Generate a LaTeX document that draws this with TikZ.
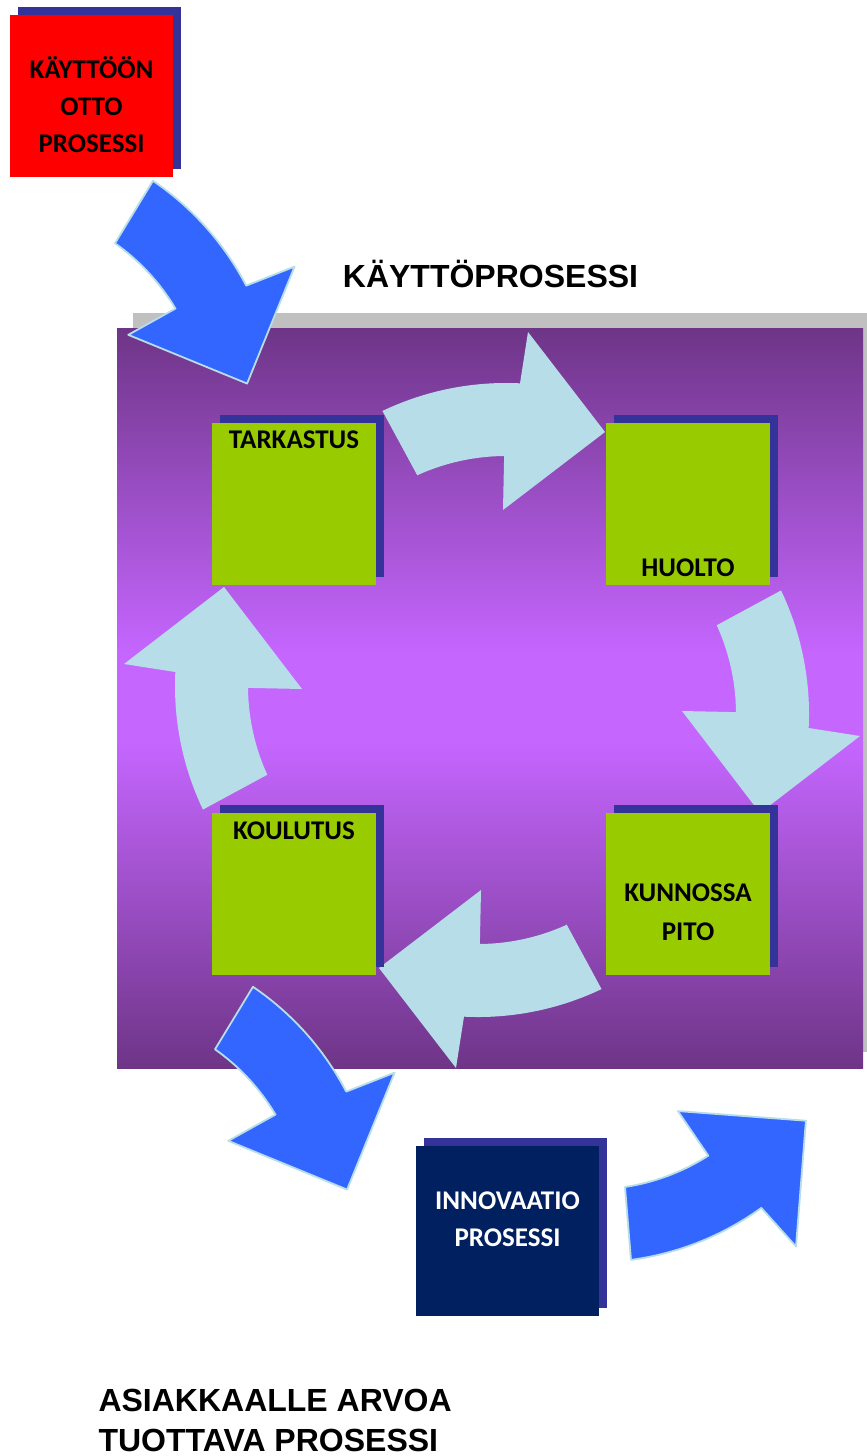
\documentclass[tikz,border=0pt]{standalone}
\usepackage{fontspec}
\newfontfamily\boxfont{Carlito}
\newfontfamily\headfont{Liberation Sans}

\definecolor{shadowblue}{HTML}{333399}
\definecolor{boxgreen}{HTML}{99CC00}
\definecolor{boxred}{HTML}{FF0000}
\definecolor{boxnavy}{HTML}{002060}
\definecolor{ringcyan}{HTML}{B7DEE8}
\definecolor{flowblue}{HTML}{3366FF}
\definecolor{bgtop}{HTML}{6E3587}
\definecolor{bgmid}{HTML}{C566FF}
\definecolor{bggray}{HTML}{C0C0C0}

% purple panel: dark at top and bottom, light in the middle
\pgfdeclareverticalshading{panelshade}{100bp}{%
  color(0bp)=(bgtop); color(25bp)=(bgtop);
  color(47bp)=(bgmid); color(53bp)=(bgmid);
  color(75bp)=(bgtop); color(100bp)=(bgtop)}

% curved block arrow: a ring sector with an arrow head, local frame
\newcommand{\ringarrow}[1]{%
  \path[#1] (-109.55,289.05)
    arc[start angle=115.5, end angle=87.2, radius=287]
    -- (36,368) -- (113,268) -- (11,190) -- (12.13,243.99)
    arc[start angle=90.5, end angle=114.5, radius=214] -- cycle;}

\tikzset{
  panel/.style={rectangle, inner sep=0pt, outer sep=0pt, anchor=north west},
  greenbox/.style={panel, fill=boxgreen, minimum width=164pt, minimum height=162pt},
  boxshadow/.style={fill=shadowblue},
  boxlabel/.style={anchor=base, inner sep=0pt,
    font=\boxfont\bfseries\fontsize{27}{32}\selectfont},
  headlabel/.style={inner sep=0pt,
    font=\headfont\bfseries\fontsize{32}{38}\selectfont},
  ringstyle/.style={fill=ringcyan},
  flowstyle/.style={fill=flowblue, draw=ringcyan, line width=1.8pt, line join=round}
}

\begin{document}
\begin{tikzpicture}[x=1pt,y=1pt]
\useasboundingbox (0,0) rectangle (867,-1456);
\fill[white] (0,0) rectangle (867,-1456);

% process frame with its shadow
\fill[bggray] (133,-313) rectangle (867,-1052);
\shade[shading=panelshade] (117,-328) rectangle (863,-1068);

% the four-step cycle arrows
\foreach \k in {0,1,2,3} {
  \begin{scope}[shift={(492,-700)}, rotate=-90*\k]
    \ringarrow{ringstyle}
  \end{scope}
}

% step boxes
\fill[boxshadow] (220,-415) rectangle (384,-577);
\node[greenbox] (tarkastus) at (212,-423) {};
\fill[boxshadow] (614,-415) rectangle (778,-577);
\node[greenbox] (huolto) at (606,-423) {};
\fill[boxshadow] (220,-805) rectangle (384,-967);
\node[greenbox] (koulutus) at (212,-813) {};
\fill[boxshadow] (614,-805) rectangle (778,-967);
\node[greenbox] (kunnossapito) at (606,-813) {};

\node[boxlabel] (tarkastusT) at (294,-448) {TARKASTUS};
\node[boxlabel] (huoltoT) at (688,-576) {HUOLTO};
\node[boxlabel] (koulutusT) at (294,-839.3) {KOULUTUS};
\node[boxlabel] (kunnossaT) at (688,-901.7) {KUNNOSSA};
\node[boxlabel] (pitoT) at (688,-940) {PITO};

% commissioning process
\fill[boxshadow] (18,-7) rectangle (181,-169);
\node[panel, fill=boxred, minimum width=163pt, minimum height=162pt] (kayttoonotto) at (10,-15) {};
\node[boxlabel] (kot1) at (91.5,-78.3) {KÄYTTÖÖN};
\node[boxlabel] (kot2) at (91.5,-115) {OTTO};
\node[boxlabel] (kot3) at (91.5,-152.3) {PROSESSI};

% innovation process
\fill[boxshadow] (424,-1138) rectangle (607,-1308);
\node[panel, fill=boxnavy, minimum width=183pt, minimum height=170pt] (innovaatio) at (416,-1146) {};
\node[boxlabel, text=white] (inn1) at (507.5,-1209.3) {INNOVAATIO};
\node[boxlabel, text=white] (inn2) at (507.5,-1246) {PROSESSI};

% headings
\node[headlabel, anchor=base] (kayttoprosessi) at (490.5,-287.7) {KÄYTTÖPROSESSI};
\node[headlabel, anchor=base west] (asiakas1) at (98.3,-1411.5) {ASIAKKAALLE ARVOA};
\node[headlabel, anchor=base west] (asiakas2) at (98.3,-1451.5) {TUOTTAVA PROSESSI};

% flow arrows between the processes
\begin{scope}[shift={(-41.3,-421.2)}, rotate=-59.7]
  \ringarrow{flowstyle}
\end{scope}
\begin{scope}[shift={(58.7,-1227.2)}, rotate=-59.7]
  \ringarrow{flowstyle}
\end{scope}
\begin{scope}[shift={(564.9,-957.9)}, rotate=33.1, yscale=-1]
  \ringarrow{flowstyle}
\end{scope}
\end{tikzpicture}
\end{document}
